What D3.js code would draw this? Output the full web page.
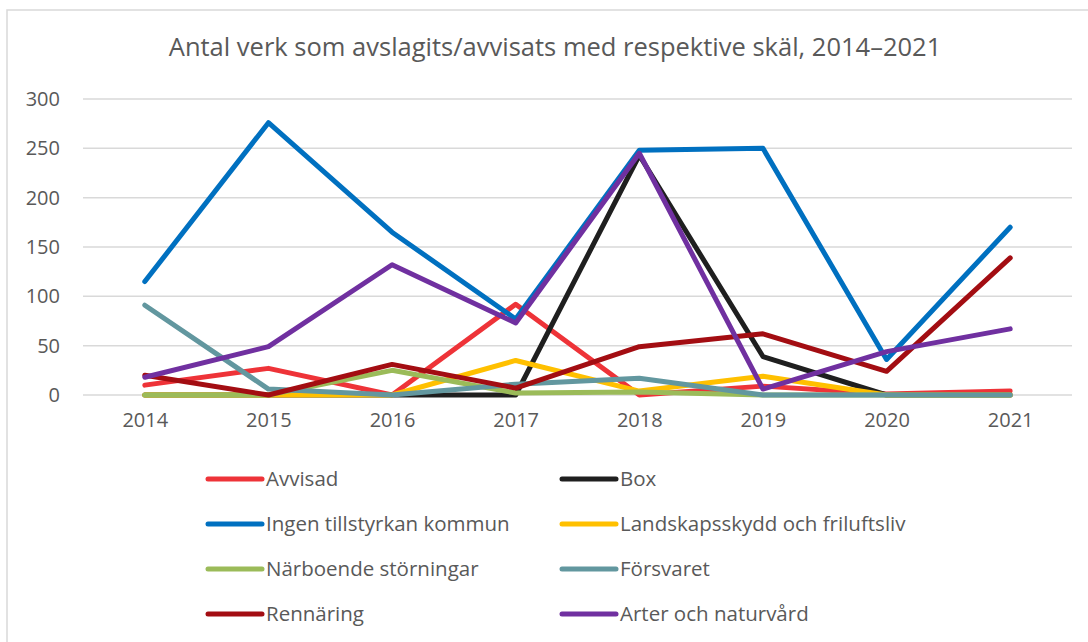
<!DOCTYPE html>
<html>
<head>
<meta charset="utf-8">
<script src="https://cdnjs.cloudflare.com/ajax/libs/d3/7.8.5/d3.min.js"></script>
<style>
body { margin: 0; background: #fff; }
text { font-family: "Open Sans", "Noto Sans", sans-serif; fill: #595959; }
</style>
</head>
<body>
<div id="chart"></div>
<script>
var years = ["2014", "2015", "2016", "2017", "2018", "2019", "2020", "2021"];
var yTicks = [0, 50, 100, 150, 200, 250, 300];

var avvisad   = [10, 27, 0, 92, 0, 9, 1, 4];
var box       = [0, 0, 0, 0, 243, 39, 0, 0];
var ingen     = [115, 276, 165, 77, 248, 250, 36, 170];
var landskap  = [0, 0, 0, 35, 4, 19, 0, 0];
var narboende = [0, 0, 25, 2, 3, 0, 0, 0];
var forsvaret = [91, 6, 0, 11, 17, 0, 0, 0];
var rennaring = [20, 0, 31, 7, 49, 62, 24, 139];
var arter     = [18, 49, 132, 73, 245, 6, 44, 67];

var seriesNames = ["Avvisad", "Box", "Ingen tillstyrkan kommun", "Landskapsskydd och friluftsliv",
	"Närboende störningar", "Försvaret", "Rennäring", "Arter och naturvård"];
var seriesValues = [avvisad, box, ingen, landskap, narboende, forsvaret, rennaring, arter];
var seriesColors = ["#ee3338", "#1f1f1f", "#0070c0", "#ffc000", "#9bbb59", "#62979f", "#a30d12", "#7030a0"];

var series = seriesNames.map(function(name, i) {
	return { name: name, color: seriesColors[i], values: seriesValues[i] };
});

var W = 1088, H = 642;
var svg = d3.select("#chart").append("svg")
	.attr("width", W)
	.attr("height", H);

// chart frame (right edge runs off the picture)
svg.append("path")
	.attr("d", "M" + 1100 + "," + 10 + "H7V650")
	.attr("fill", "none")
	.attr("stroke", "#d9d9d9")
	.attr("stroke-width", 1.5);

svg.append("text")
	.attr("x", 555)
	.attr("y", 47)
	.attr("dy", "0.35em")
	.attr("text-anchor", "middle")
	.style("font-size", "25.5px")
	.text("Antal verk som avslagits/avvisats med respektive skäl, 2014–2021");

var x = d3.scalePoint()
	.domain(years)
	.range([83, 1072])
	.padding(0.5);

var y = d3.scaleLinear()
	.domain([0, 300])
	.range([395, 99]);

// gridlines
svg.append("g")
	.selectAll("line")
	.data(yTicks)
	.join("line")
	.attr("x1", 83)
	.attr("x2", 1072)
	.attr("y1", function(d) { return y(d); })
	.attr("y2", function(d) { return y(d); })
	.attr("stroke", "#d9d9d9")
	.attr("stroke-width", 1.5);

// y axis labels
var yAxis = svg.append("g")
	.attr("transform", "translate(68,0)")
	.call(d3.axisLeft(y).tickValues(yTicks).tickSize(0).tickPadding(8));
yAxis.select(".domain").remove();
yAxis.selectAll("text")
	.style("font-family", "\"Open Sans\", sans-serif")
	.style("font-size", "20px")
	.attr("fill", "#595959");

// x axis labels
var xAxis = svg.append("g")
	.attr("transform", "translate(0,413)")
	.call(d3.axisBottom(x).tickSize(0).tickPadding(0));
xAxis.select(".domain").remove();
xAxis.selectAll("text")
	.style("font-family", "\"Open Sans\", sans-serif")
	.style("font-size", "20px")
	.attr("fill", "#595959");

var line = d3.line()
	.x(function(d, i) { return x(years[i]); })
	.y(function(d) { return y(d); });

svg.append("g")
	.selectAll("path")
	.data(series)
	.join("path")
	.attr("d", function(d) { return line(d.values); })
	.attr("fill", "none")
	.attr("stroke", function(d) { return d.color; })
	.attr("stroke-width", 5)
	.attr("stroke-linejoin", "round")
	.attr("stroke-linecap", "round");

// legend, two columns
var legend = svg.append("g")
	.selectAll("g")
	.data(series)
	.join("g")
	.attr("transform", function(d, i) {
		var col = i % 2, row = Math.floor(i / 2);
		return "translate(" + (col === 0 ? 208 : 562) + "," + (479 + row * 45) + ")";
	});
legend.append("line")
	.attr("x1", 0)
	.attr("x2", 54)
	.attr("stroke", function(d) { return d.color; })
	.attr("stroke-width", 5)
	.attr("stroke-linecap", "round");
legend.append("text")
	.attr("x", 58)
	.attr("dy", "0.35em")
	.style("font-size", "20.5px")
	.text(function(d) { return d.name; });
</script>
</body>
</html>
